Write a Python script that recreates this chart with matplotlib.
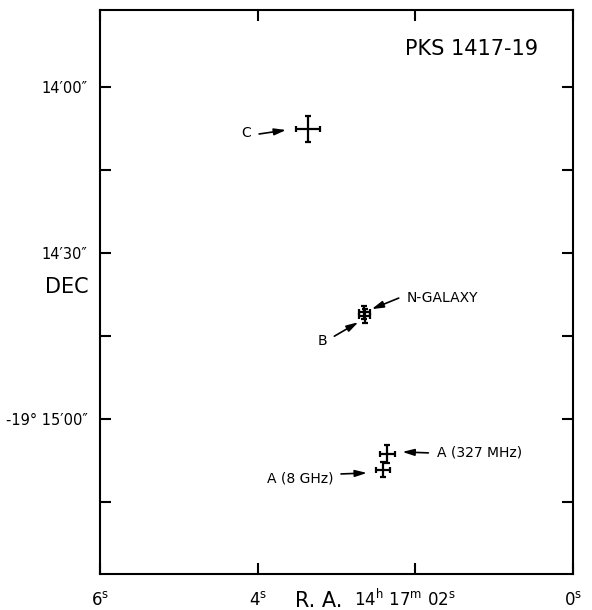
import matplotlib
matplotlib.use('Agg')
import matplotlib.pyplot as plt
from matplotlib import transforms

# RA in seconds (14h17m + x s), DEC in arcsec relative to -19d15'00"
names = ['C', 'B', 'N-GALAXY', 'A (327 MHz)', 'A (8 GHz)']
ra = [3.36, 2.647, 2.642, 2.355, 2.41]
dec = [52.4, 19.3, 18.6, -6.3, -9.2]
ra_err = [0.156, 0.072, 0.070, 0.099, 0.093]
dec_err = [2.3, 1.2, 1.2, 1.6, 1.35]

x_ticks = [6, 4, 2, 0]
x_labels = [r'$6^{\rm s}$', r'$4^{\rm s}$', '', r'$0^{\rm s}$']
y_ticks = [60, 45, 30, 15, 0, -15]
y_labels = ['14\u203200\u2033', '', '14\u203230\u2033', '', '-19\u00b0 15\u203200\u2033', '']

# label offsets in pixels from the point: (text, arrow tail, arrow head, ha)
label_pos = {
    'C': ((-62, -4), (-49, -5), (-22, -1), 'center'),
    'B': ((-42, -29), (-30, -24), (-6, -10), 'center'),
    'N-GALAXY': ((42, 18), (34, 18), (7, 7), 'left'),
    'A (327 MHz)': ((50, 1), (41, 1), (15, 2), 'left'),
    'A (8 GHz)': ((-50, -9), (-42, -4), (-16, -3), 'right'),
}

fig = plt.figure(figsize=(5.92, 6.10), dpi=100)
ax = fig.add_axes([0.1689, 0.059, 0.799, 0.9246])

ax.errorbar(ra, dec, xerr=ra_err, yerr=dec_err, fmt='none', ecolor='black',
            elinewidth=1.6, capsize=2.5, capthick=1.6)

for name, x, y in zip(names, ra, dec):
    txt, tail, head, ha = label_pos[name]
    off_head = transforms.offset_copy(ax.transData, fig=fig, x=head[0], y=head[1], units='dots')
    off_tail = transforms.offset_copy(ax.transData, fig=fig, x=tail[0], y=tail[1], units='dots')
    ax.annotate('', xy=(x, y), xycoords=off_head, xytext=(x, y), textcoords=off_tail,
                arrowprops=dict(arrowstyle='-|>,head_length=0.7,head_width=0.2',
                                color='black', lw=1.2, shrinkA=0, shrinkB=0))
    ax.annotate(name, xy=(x, y), xytext=txt, textcoords='offset pixels',
                ha=ha, va='center', fontsize=10)

ax.set_xlim(6, 0)
ax.set_ylim(-28.0, 73.9)
ax.set_xticks(x_ticks)
ax.set_xticklabels(x_labels, fontsize=12)
ax.set_yticks(y_ticks)
ax.set_yticklabels(y_labels, fontsize=10.5)
ax.tick_params(direction='in', top=True, right=True, length=8, width=1.5, pad=9)
ax.tick_params(axis='x', pad=12)
for s in ax.spines.values():
    s.set_linewidth(1.5)

blend = transforms.blended_transform_factory(ax.transData, ax.transAxes)
ax.text(2.13, -0.045, r'$14^{\rm h}\ 17^{\rm m}\ 02^{\rm s}$', transform=blend,
        ha='center', va='center', fontsize=12)
ax.text(3.23, -0.047, 'R. A.', transform=blend, ha='center', va='center', fontsize=15)
ax.text(-0.023, 0.509, 'DEC', transform=ax.transAxes, ha='right', va='center', fontsize=15)
ax.text(0.926, 0.931, 'PKS 1417-19', transform=ax.transAxes, ha='right', va='center', fontsize=15)

fig.savefig('out.png', dpi=100)
